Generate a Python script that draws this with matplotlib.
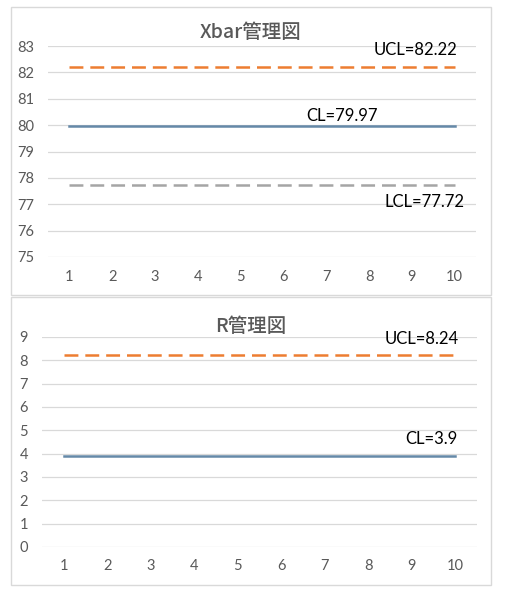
import matplotlib
matplotlib.use("Agg")

import matplotlib.pyplot as plt
from matplotlib.patches import Rectangle

# データ
samples = [1, 2, 3, 4, 5, 6, 7, 8, 9, 10]
xbar_ucl = [82.22, 82.22, 82.22, 82.22, 82.22, 82.22, 82.22, 82.22, 82.22, 82.22]
xbar_cl = [79.97, 79.97, 79.97, 79.97, 79.97, 79.97, 79.97, 79.97, 79.97, 79.97]
xbar_lcl = [77.72, 77.72, 77.72, 77.72, 77.72, 77.72, 77.72, 77.72, 77.72, 77.72]
r_ucl = [8.24, 8.24, 8.24, 8.24, 8.24, 8.24, 8.24, 8.24, 8.24, 8.24]
r_cl = [3.9, 3.9, 3.9, 3.9, 3.9, 3.9, 3.9, 3.9, 3.9, 3.9]
xbar_yticks = [75, 76, 77, 78, 79, 80, 81, 82, 83]
r_yticks = [0, 1, 2, 3, 4, 5, 6, 7, 8, 9]

plt.rcParams["font.family"] = ["Lato", "Noto Sans CJK JP", "DejaVu Sans"]
plt.rcParams["lines.scale_dashes"] = False

W, H = 505, 597
fig = plt.figure(figsize=(W / 100, H / 100), dpi=100)

ORANGE = "#ED7D31"
BLUE = "#6589A8"
GRAY = "#A5A5A5"
GRID = "#D9D9D9"
TXT = "#595959"


def px_axes(x0, y0, x1, y1):
    # ピクセル座標 (上から) -> figure 座標
    return fig.add_axes([x0 / W, 1 - y1 / H, (x1 - x0) / W, (y1 - y0) / H])


def panel(x0, y0, x1, y1):
    fig.patches.append(Rectangle((x0 / W, 1 - y1 / H), (x1 - x0) / W, (y1 - y0) / H,
                                 transform=fig.transFigure, fill=False,
                                 edgecolor=GRID, linewidth=1.0))


def style(ax, ylim, yticks, title, title_y):
    ax.set_xlim(0.5, 10.5)
    ax.set_ylim(*ylim)
    ax.set_yticks(yticks)
    ax.set_xticks(samples)
    ax.grid(axis="y", color=GRID, linewidth=0.9)
    ax.set_axisbelow(True)
    for s in ax.spines.values():
        s.set_visible(False)
    ax.tick_params(length=0, labelsize=10.5, labelcolor=TXT)
    ax.tick_params(axis="y", pad=10)
    ax.tick_params(axis="x", pad=9)
    fig.text(251 / W, 1 - title_y / H, title, ha="center", va="center",
             fontsize=14, color=TXT, fontweight="medium", family=["Noto Sans CJK JP"])


def label(ax, text, y, dx, dy):
    ax.annotate(text, xy=(10, y), xytext=(dx, dy), textcoords="offset pixels",
                ha="right", va="center", fontsize=12, color="black")


dash = (0, (10, 5))

# Xbar管理図
panel(11, 7, 491, 295)
ax1 = px_axes(48, 46, 476, 257)
ax1.plot(samples, xbar_ucl, color=ORANGE, linewidth=1.8, linestyle=dash)
ax1.plot(samples, xbar_cl, color=BLUE, linewidth=1.8)
ax1.plot(samples, xbar_lcl, color=GRAY, linewidth=1.8, linestyle=dash)
style(ax1, (75, 83), xbar_yticks, "Xbar管理図", 32)
label(ax1, "UCL=82.22", xbar_ucl[-1], 3, 17)
label(ax1, "CL=79.97", xbar_cl[-1], -77, 10)
label(ax1, "LCL=77.72", xbar_lcl[-1], 10, -17)

# R管理図
panel(11, 297, 491, 585)
ax2 = px_axes(42, 337, 477, 547)
ax2.plot(samples, r_ucl, color=ORANGE, linewidth=1.8, linestyle=dash)
ax2.plot(samples, r_cl, color=BLUE, linewidth=1.8)
style(ax2, (0, 9), r_yticks, "R管理図", 326)
label(ax2, "UCL=8.24", r_ucl[-1], 4, 16)
label(ax2, "CL=3.9", r_cl[-1], 2, 17)

fig.savefig("out.png", dpi=100, facecolor="white")
